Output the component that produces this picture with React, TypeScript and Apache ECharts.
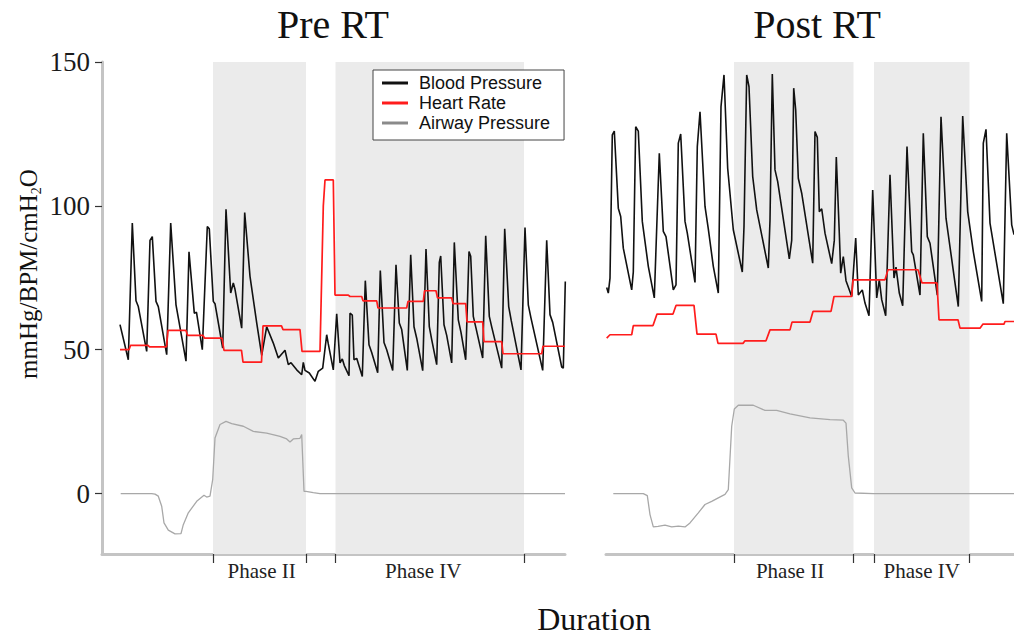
import React, { useEffect, useRef } from "react";
import * as echarts from "echarts";

// ---------- data (x = sample index, y = value) ----------
const preBP: [number, number][] = [
  [18, 58.7], [26.3, 46.5], [30.3, 94], [34, 67], [36.3, 65], [44.7, 49.4],
  [48, 88], [50.3, 89.3], [54, 66.8], [56.3, 65], [64.7, 48.3],
  [68.7, 94], [74, 65.6], [84, 46],
  [87, 84], [92.3, 62.7], [94.5, 63], [100.3, 50],
  [105.3, 92.8], [107.3, 92], [111.3, 66.8], [113, 66], [120.7, 50.6],
  [124, 98.8], [128.7, 69.7], [131.3, 73.2], [133, 71], [139.7, 57.5],
  [142.7, 97.7], [148, 75.5], [154.7, 59.3], [159.7, 48],
  [164.7, 58], [171.3, 52.3], [176.3, 47.1], [183, 49.8], [186.3, 44.8], [189, 45.5],
  [194.7, 43], [199.7, 41.3], [201.3, 45.6], [203, 42.8], [207.3, 41.9], [213, 39],
  [216.3, 42.5], [220.7, 43.6], [224.7, 55.2], [226.3, 52], [231.3, 43],
  [234.7, 62.5], [238, 45.4], [240.3, 46.8], [242.3, 44.5], [247, 41],
  [248, 62.7], [250.3, 62], [252, 46.5], [254.7, 47], [260.3, 40.7],
  [263.3, 74], [267, 51.7], [269.7, 49], [275.7, 42],
  [278.3, 77.5], [282, 52.5], [284.7, 50], [290.7, 42.8],
  [294, 79.5], [297.3, 59.3], [299.7, 57], [305.3, 42.8],
  [308.7, 83], [312, 58], [314.7, 54], [320.7, 42.7],
  [324, 85], [327.3, 58], [329.7, 53.5], [334.7, 44.8],
  [337.3, 80.3], [338.7, 82.6], [342, 58.7], [344.7, 55], [349.7, 45.4],
  [352.3, 87.3], [356.3, 60.4], [359, 56], [363.7, 46.5],
  [367, 84.1], [368.7, 82.5], [371.3, 61.6], [374, 57.5], [380.7, 47.1],
  [383.7, 89.6], [387.3, 61.6], [390, 57.5], [399.7, 43.6],
  [402.7, 92], [406.7, 65], [409.3, 60], [419, 43],
  [423, 92.5], [426.3, 65.6], [429, 61], [440.7, 42.8],
  [444.7, 88], [448, 62.2], [450.7, 59.5], [459.7, 44], [461.3, 43.6], [463.3, 73.7],
];

const preHR: [number, number][] = [
  [18, 50], [27, 50], [28.5, 51.5], [46, 51.5], [47.5, 51], [64.5, 51],
  [66, 56.7], [84, 56.7], [85.5, 55], [101, 55], [102.5, 54], [120, 54],
  [122, 49.8], [139.5, 49.8], [141, 45.7], [159.5, 45.7], [161, 58.3], [179.5, 58.3],
  [181, 57], [198, 57], [200, 49.4], [218, 49.4], [221.3, 100], [223, 109],
  [231.3, 109], [233, 69], [246.3, 69], [248, 68.5], [259.7, 68.5], [261, 67],
  [274.7, 67], [276, 64.5], [304.7, 64.5], [306, 66.8], [321.3, 66.8], [322.5, 70.5],
  [334, 70.5], [335.5, 68], [349.7, 68], [351, 66], [363.7, 66], [365, 59.7],
  [380.7, 59.7], [382, 52.8], [399.7, 52.8], [401, 48.6], [439.7, 48.6], [441, 51.2], [463, 51.2],
];

const preAirway: [number, number][] = [
  [18.7, 0], [49.7, 0], [53, -0.2], [56.3, -0.9], [59.7, -4.4], [62, -10.2],
  [66.3, -12.7], [73, -14], [79, -13.9], [81.3, -10.8], [86.3, -6.7], [94.7, -2.7],
  [102, -0.6], [104.7, -1.2], [108, -0.9], [110.7, 4.9], [113, 19.3], [118, 24],
  [124, 25.1], [129.7, 24.3], [141.3, 23.4], [151.3, 21.6], [164.7, 21], [178, 19.9],
  [184.7, 19], [188, 17.9], [191.3, 19], [198, 19.2], [199.7, 20.5], [202, 0.8],
  [204, 0.8], [211.3, 0.3], [218, 0], [463, 0],
];

const postBP: [number, number][] = [
  [0.7, 71.6], [2.3, 69.7], [4, 74.9], [6.3, 124.7], [8.3, 126], [12.3, 99.2], [14.7, 96.3],
  [17.3, 85.3], [25.7, 70.8], [27.3, 77], [29.7, 127.5], [32.3, 126], [36.3, 94.6],
  [42.3, 79], [48.3, 68], [53.3, 118.3], [57.3, 91.1], [60, 89.3], [67.3, 70.8],
  [70, 72.5], [72.3, 121.8], [74.7, 125], [79, 94.6], [81.3, 90.5], [89, 73.4],
  [91.3, 120.6], [94, 132.7], [99, 99.8], [102.3, 92], [107.3, 79], [112.3, 69.7],
  [115, 134.5], [118, 145.5], [121.7, 113], [127.3, 91.7], [136.3, 77],
  [138, 92.8], [140.7, 145.5], [143, 141.4], [146.7, 110.2], [150.7, 98.6], [162.3, 78.4],
  [164, 95], [166.3, 145.8], [169, 112.5], [171.7, 108.4], [183.3, 81.6],
  [185.7, 88], [187.7, 140.9], [189.7, 133.3], [192.3, 109.6], [195.7, 104.4], [206.7, 80.1],
  [209, 125.8], [211.3, 123.8], [213.3, 98], [215.7, 99], [219, 90.5], [225.7, 79.9],
  [228.3, 88], [230.3, 117], [233.3, 90.5], [234.7, 76.6], [237.3, 82.4], [240, 74], [245.7, 68.5],
  [249.7, 88.8], [252.3, 69], [256.3, 70.8], [259, 66.2], [263, 61.8],
  [266.7, 105.5], [270.7, 68], [273.3, 74.3], [275.7, 67.4], [279.7, 61.8],
  [284, 110.8], [288, 74.9], [290, 78.7], [293.3, 69.7], [296.7, 65.3],
  [301, 120.6], [305.7, 84.1], [307.3, 83], [314, 69],
  [317.3, 125.2], [321.3, 89.3], [324, 87], [331.3, 69],
  [335, 131], [340, 95.7], [352.3, 65],
  [356.7, 131.2], [361.7, 98], [367.3, 84.1], [375.7, 66.8],
  [377.3, 121.8], [380, 126.6], [384, 94], [397.3, 66],
  [400.7, 125.2], [405.7, 93.4], [408, 90],
];

const postHR: [number, number][] = [
  [0.7, 54], [4, 55.2], [25.7, 55.2], [27.3, 58.4], [47, 58.4], [51, 62.4], [67, 62.4],
  [70, 65.4], [88, 65.4], [91, 55.4], [110, 55.4], [112, 52.2], [137, 52.2], [139, 53.1],
  [160, 53.1], [164, 56.9], [184, 56.9], [186, 59.6], [204, 59.6], [207, 63.3], [225, 63.3],
  [228, 68.5], [245.7, 68.5], [247, 74.3], [279, 74.3], [282, 77.8], [312, 77.8], [316, 73.2],
  [331, 73.2], [333, 60.4], [352, 60.4], [354, 57.5], [374, 57.5], [377, 58.9], [398, 58.9],
  [399, 59.8], [408, 59.8],
];

const postAirway: [number, number][] = [
  [7.3, 0], [37.3, 0], [41.3, -0.7], [44, -7.3], [47.3, -11.6], [52, -11.4], [59, -11],
  [65.7, -11.6], [72.3, -11.3], [79, -11.6], [84, -10.2], [92.3, -6.7], [99, -3.8],
  [105.7, -2.7], [112.3, -1.5], [119, -0.3], [122.3, 1.4], [125.7, 23.4], [128.3, 29.4],
  [132.3, 30.7], [147.3, 30.7], [159, 28.9], [170.7, 28.9], [184, 27.7], [204, 26.3],
  [224, 25.7], [237.3, 25.5], [240, 24.5], [242.3, 13], [245.7, 2], [249, 0.2],
  [267.3, 0], [408, 0],
];

const prePhases: [number, number][] = [[111, 204], [233.5, 422]];
const postPhases: [number, number][] = [[128, 247.5], [268, 363.5]];
const phaseNames = ["Phase II", "Phase IV"];
const prePhaseLabelAt = [159.7, 321.3];
const postPhaseLabelAt = [184, 315.7];
const preRange = [0, 463];
const postRange = [0, 408];
const yTicks = [0, 50, 100, 150];
const yRange = [-21, 150];
const panelTitles = ["Pre RT", "Post RT"];
const seriesNames = ["Blood Pressure", "Heart Rate", "Airway Pressure"];

const SERIF = "'Liberation Serif', 'DejaVu Serif', serif";
const SANS = "'Liberation Sans', Arial, sans-serif";
const COL_BP = "#111111";
const COL_HR = "#ff1c1c";
const COL_AW = "#a8a8a8";
const AXIS_COL = "#c4c4c4";

function xAxisFor(grid: number, range: number[], phases: [number, number][], labelAt: number[]) {
  return {
    gridIndex: grid,
    type: "value",
    min: range[0],
    max: range[1],
    axisLine: { show: true, onZero: false, lineStyle: { color: AXIS_COL, width: 3 } },
    splitLine: { show: false },
    axisTick: {
      show: true,
      customValues: phases.flat(),
      length: 9,
      lineStyle: { color: "#333", width: 1.2 },
    },
    axisLabel: {
      show: true,
      customValues: labelAt,
      formatter: (v: number) => {
        const i = labelAt.indexOf(v);
        return i >= 0 ? phaseNames[i] : "";
      },
      fontFamily: SERIF,
      fontSize: 21,
      color: "#222",
      margin: 6,
    },
  };
}

function bandSeries(x: number, y: number, phases: [number, number][]) {
  return {
    type: "line",
    xAxisIndex: x,
    yAxisIndex: y,
    data: [],
    z: 0,
    silent: true,
    markArea: {
      silent: true,
      itemStyle: { color: "#ebebeb" },
      data: phases.map((p) => [{ xAxis: p[0] }, { xAxis: p[1] }]),
    },
  };
}

function lineSeries(name: string, data: [number, number][], idx: number, color: string, width: number, z: number) {
  return {
    name,
    type: "line",
    xAxisIndex: idx,
    yAxisIndex: idx,
    data,
    showSymbol: false,
    symbol: "none",
    color,
    lineStyle: { color, width },
    z,
  };
}

export default function App() {
  const ref = useRef<HTMLDivElement>(null);
  useEffect(() => {
    if (!ref.current) return;
    const chart = echarts.init(ref.current, undefined, { renderer: "svg" });
    chart.setOption({
      animation: false,
      backgroundColor: "#ffffff",
      grid: [
        { left: 102, top: 62, width: 463, height: 492 },
        { left: 606, top: 62, width: 408, height: 492 },
      ],
      xAxis: [
        xAxisFor(0, preRange, prePhases, prePhaseLabelAt),
        xAxisFor(1, postRange, postPhases, postPhaseLabelAt),
      ],
      yAxis: [
        {
          gridIndex: 0,
          type: "value",
          min: yRange[0],
          max: yRange[1],
          axisLine: { show: true, lineStyle: { color: AXIS_COL, width: 3 } },
          splitLine: { show: false },
          axisTick: { show: true, customValues: yTicks, length: 7, lineStyle: { color: "#333", width: 1.2 } },
          axisLabel: { customValues: yTicks, fontFamily: SERIF, fontSize: 27, color: "#1a1a1a", margin: 12 },
        },
        { gridIndex: 1, type: "value", min: yRange[0], max: yRange[1], show: false },
      ],
      legend: {
        data: [
          { name: seriesNames[0] },
          { name: seriesNames[1] },
          { name: seriesNames[2], itemStyle: { color: "#8a8a8a" } },
        ],
        orient: "vertical",
        left: 373,
        top: 70,
        icon: "rect",
        itemWidth: 26,
        itemHeight: 3,
        itemGap: 0,
        padding: [3, 14, 7, 9],
        backgroundColor: "#ffffff",
        borderColor: "#444",
        borderWidth: 1,
        borderRadius: 0,
        textStyle: { fontFamily: SANS, fontSize: 18, color: "#111", lineHeight: 20, padding: [0, 0, 0, 6] },
      },
      graphic: [
        {
          type: "text", x: 333, y: 24.5,
          style: { text: panelTitles[0], font: `40px ${SERIF}`, fill: "#111", align: "center", verticalAlign: "middle" },
        },
        {
          type: "text", x: 817, y: 24.5,
          style: { text: panelTitles[1], font: `40px ${SERIF}`, fill: "#111", align: "center", verticalAlign: "middle" },
        },
        {
          type: "text", x: 594, y: 619,
          style: { text: "Duration", font: `32px ${SERIF}`, fill: "#111", align: "center", verticalAlign: "middle" },
        },
        {
          type: "text", x: 28, y: 274, rotation: Math.PI / 2,
          style: {
            text: "{a|mmHg/BPM/cmH}{s|2}{a|O}",
            align: "center",
            verticalAlign: "middle",
            fill: "#111",
            rich: {
              a: { fontFamily: SERIF, fontSize: 25, lineHeight: 30, fill: "#111" },
              s: { fontFamily: SERIF, fontSize: 14, lineHeight: 14, padding: [16, 0, 0, 0], verticalAlign: "top", fill: "#111" },
            },
          },
        },
      ],
      series: [
        bandSeries(0, 0, prePhases),
        bandSeries(1, 1, postPhases),
        lineSeries(seriesNames[2], preAirway, 0, COL_AW, 1.3, 2),
        lineSeries(seriesNames[0], preBP, 0, COL_BP, 1.6, 3),
        lineSeries(seriesNames[1], preHR, 0, COL_HR, 1.7, 4),
        lineSeries(seriesNames[2], postAirway, 1, COL_AW, 1.3, 2),
        lineSeries(seriesNames[0], postBP, 1, COL_BP, 1.6, 3),
        lineSeries(seriesNames[1], postHR, 1, COL_HR, 1.7, 4),
      ],
    });
    return () => chart.dispose();
  }, []);
  return (
    <div
      ref={ref}
      style={{ position: "fixed", left: 0, top: 0, width: 1014, height: 637, background: "#fff" }}
    />
  );
}
